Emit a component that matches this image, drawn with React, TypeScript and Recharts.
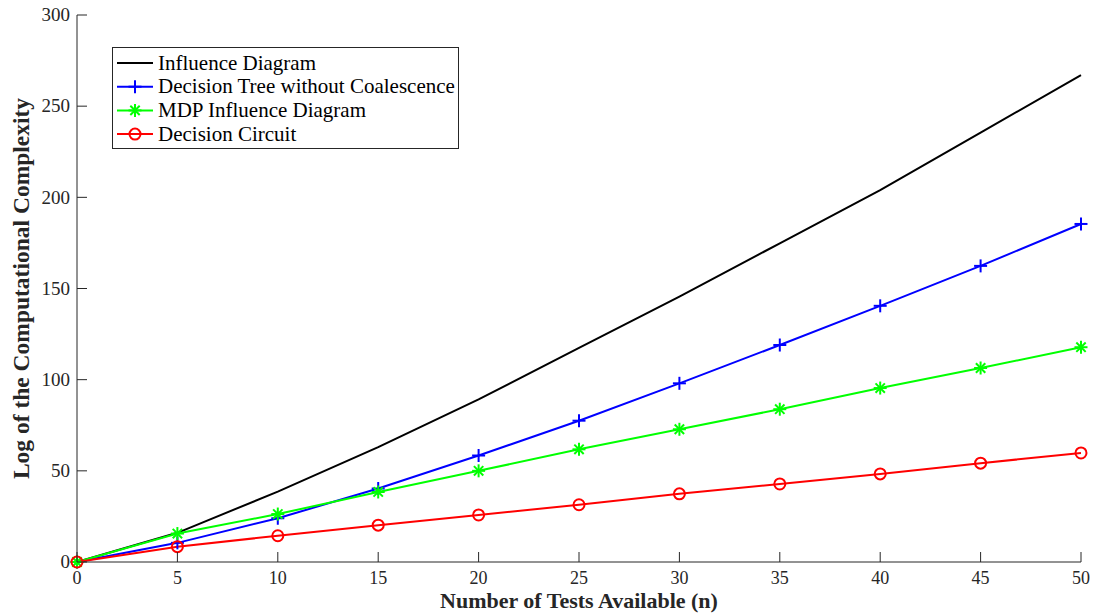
import React from 'react';
import { LineChart, Line, XAxis, YAxis, Legend } from 'recharts';

// tests available (n)
const nTests = [0, 5, 10, 15, 20, 25, 30, 35, 40, 45, 50];

// log of computational complexity
const influenceDiagram = [0, 16, 38.6, 63, 89.2, 117.4, 145.5, 174.8, 204, 235.5, 267];
const decisionTree = [0, 10.5, 24, 40.3, 58.4, 77.5, 98, 119, 140.5, 162.4, 185.4];
const mdpInfluence = [0, 15.6, 26.3, 38.4, 50, 61.8, 72.8, 83.8, 95.4, 106.4, 117.8];
const decisionCircuit = [0, 8.4, 14.4, 20.2, 25.8, 31.4, 37.4, 42.8, 48.3, 54.2, 59.8];

const xTicks = [0, 5, 10, 15, 20, 25, 30, 35, 40, 45, 50];
const yTicks = [0, 50, 100, 150, 200, 250, 300];

const FONT = '"Liberation Serif", "Times New Roman", serif';
const AXIS = '#262626';

type Marker = 'none' | 'plus' | 'star' | 'circle';

const series: { key: string; name: string; color: string; marker: Marker }[] = [
  { key: 'influence', name: 'Influence Diagram', color: '#000000', marker: 'none' },
  { key: 'tree', name: 'Decision Tree without Coalescence', color: '#0000ff', marker: 'plus' },
  { key: 'mdp', name: 'MDP Influence Diagram', color: '#00ff00', marker: 'star' },
  { key: 'circuit', name: 'Decision Circuit', color: '#ff0000', marker: 'circle' },
];

const data = nTests.map((n, i) => ({
  n,
  influence: influenceDiagram[i],
  tree: decisionTree[i],
  mdp: mdpInfluence[i],
  circuit: decisionCircuit[i],
}));

function markerShape(marker: Marker, cx: number, cy: number, color: string, key?: string | number) {
  const s = 6.5;
  if (marker === 'plus') {
    return (
      <g key={key} stroke={color} strokeWidth={2} fill="none">
        <line x1={cx - s} y1={cy} x2={cx + s} y2={cy} />
        <line x1={cx} y1={cy - s} x2={cx} y2={cy + s} />
      </g>
    );
  }
  if (marker === 'star') {
    const d = s * 0.72;
    return (
      <g key={key} stroke={color} strokeWidth={2} fill="none">
        <line x1={cx - s} y1={cy} x2={cx + s} y2={cy} />
        <line x1={cx} y1={cy - s} x2={cx} y2={cy + s} />
        <line x1={cx - d} y1={cy - d} x2={cx + d} y2={cy + d} />
        <line x1={cx - d} y1={cy + d} x2={cx + d} y2={cy - d} />
      </g>
    );
  }
  if (marker === 'circle') {
    return <circle key={key} cx={cx} cy={cy} r={5.5} stroke={color} strokeWidth={2} fill="none" />;
  }
  return <g key={key} />;
}

const XTick = (props: any) => {
  const { x, y, payload } = props;
  return (
    <g>
      <line x1={x} y1={y} x2={x} y2={y - 10} stroke={AXIS} strokeWidth={1} />
      <text x={x} y={y + 22} textAnchor="middle" fontFamily={FONT} fontSize={18} fill={AXIS}>
        {payload.value}
      </text>
    </g>
  );
};

const YTick = (props: any) => {
  const { x, y, payload } = props;
  return (
    <g>
      <line x1={x} y1={y} x2={x + 10} y2={y} stroke={AXIS} strokeWidth={1} />
      <text x={x - 7} y={y + 6.3} textAnchor="end" fontFamily={FONT} fontSize={19} fill={AXIS}>
        {payload.value}
      </text>
    </g>
  );
};

const LegendBox = () => (
  <svg width={347} height={102} style={{ display: 'block' }}>
    <rect x={0.5} y={0.5} width={346} height={101} fill="#ffffff" stroke={AXIS} strokeWidth={1} />
    {series.map((s, i) => {
      const cy = 16 + i * 23.7;
      return (
        <g key={s.key}>
          <line x1={5} y1={cy} x2={41} y2={cy} stroke={s.color} strokeWidth={2} />
          {markerShape(s.marker, 23, cy, s.color)}
          <text x={46} y={cy + 6.7} fontFamily={FONT} fontSize={21} fill="#000000">
            {s.name}
          </text>
        </g>
      );
    })}
  </svg>
);

export default function App() {
  return (
    <div style={{ position: 'absolute', left: 0, top: 0, width: 1093, height: 613, background: '#ffffff' }}>
      <LineChart width={1093} height={613} data={data} margin={{ top: 15, right: 12, left: 0, bottom: 0 }}>
        <XAxis
          dataKey="n"
          type="number"
          domain={[0, 50]}
          ticks={xTicks}
          height={51}
          stroke={AXIS}
          tickLine={false}
          tickSize={0}
          tickMargin={0}
          tick={<XTick />}
          label={{
            value: 'Number of Tests Available (n)',
            position: 'center',
            dy: 13,
            style: { fontFamily: FONT, fontSize: 22, fontWeight: 'bold', fill: AXIS },
          }}
        />
        <YAxis
          type="number"
          domain={[0, 300]}
          ticks={yTicks}
          width={77}
          stroke={AXIS}
          tickLine={false}
          tickSize={0}
          tickMargin={0}
          tick={<YTick />}
          label={{
            value: 'Log of the Computational Complexity',
            angle: -90,
            position: 'center',
            dx: -18,
            style: { fontFamily: FONT, fontSize: 23.5, fontWeight: 'bold', fill: AXIS },
          }}
        />
        <Legend
          layout="vertical"
          align="center"
          verticalAlign="middle"
          content={<LegendBox />}
          wrapperStyle={{ position: 'absolute', left: 112, top: 47, width: 347, height: 102 }}
        />
        {series.map((s) => (
          <Line
            key={s.key}
            type="linear"
            dataKey={s.key}
            name={s.name}
            stroke={s.color}
            strokeWidth={2}
            isAnimationActive={false}
            activeDot={false}
            dot={(p: any) => markerShape(s.marker, p.cx, p.cy, s.color, `${s.key}-${p.index}`)}
          />
        ))}
      </LineChart>
    </div>
  );
}
